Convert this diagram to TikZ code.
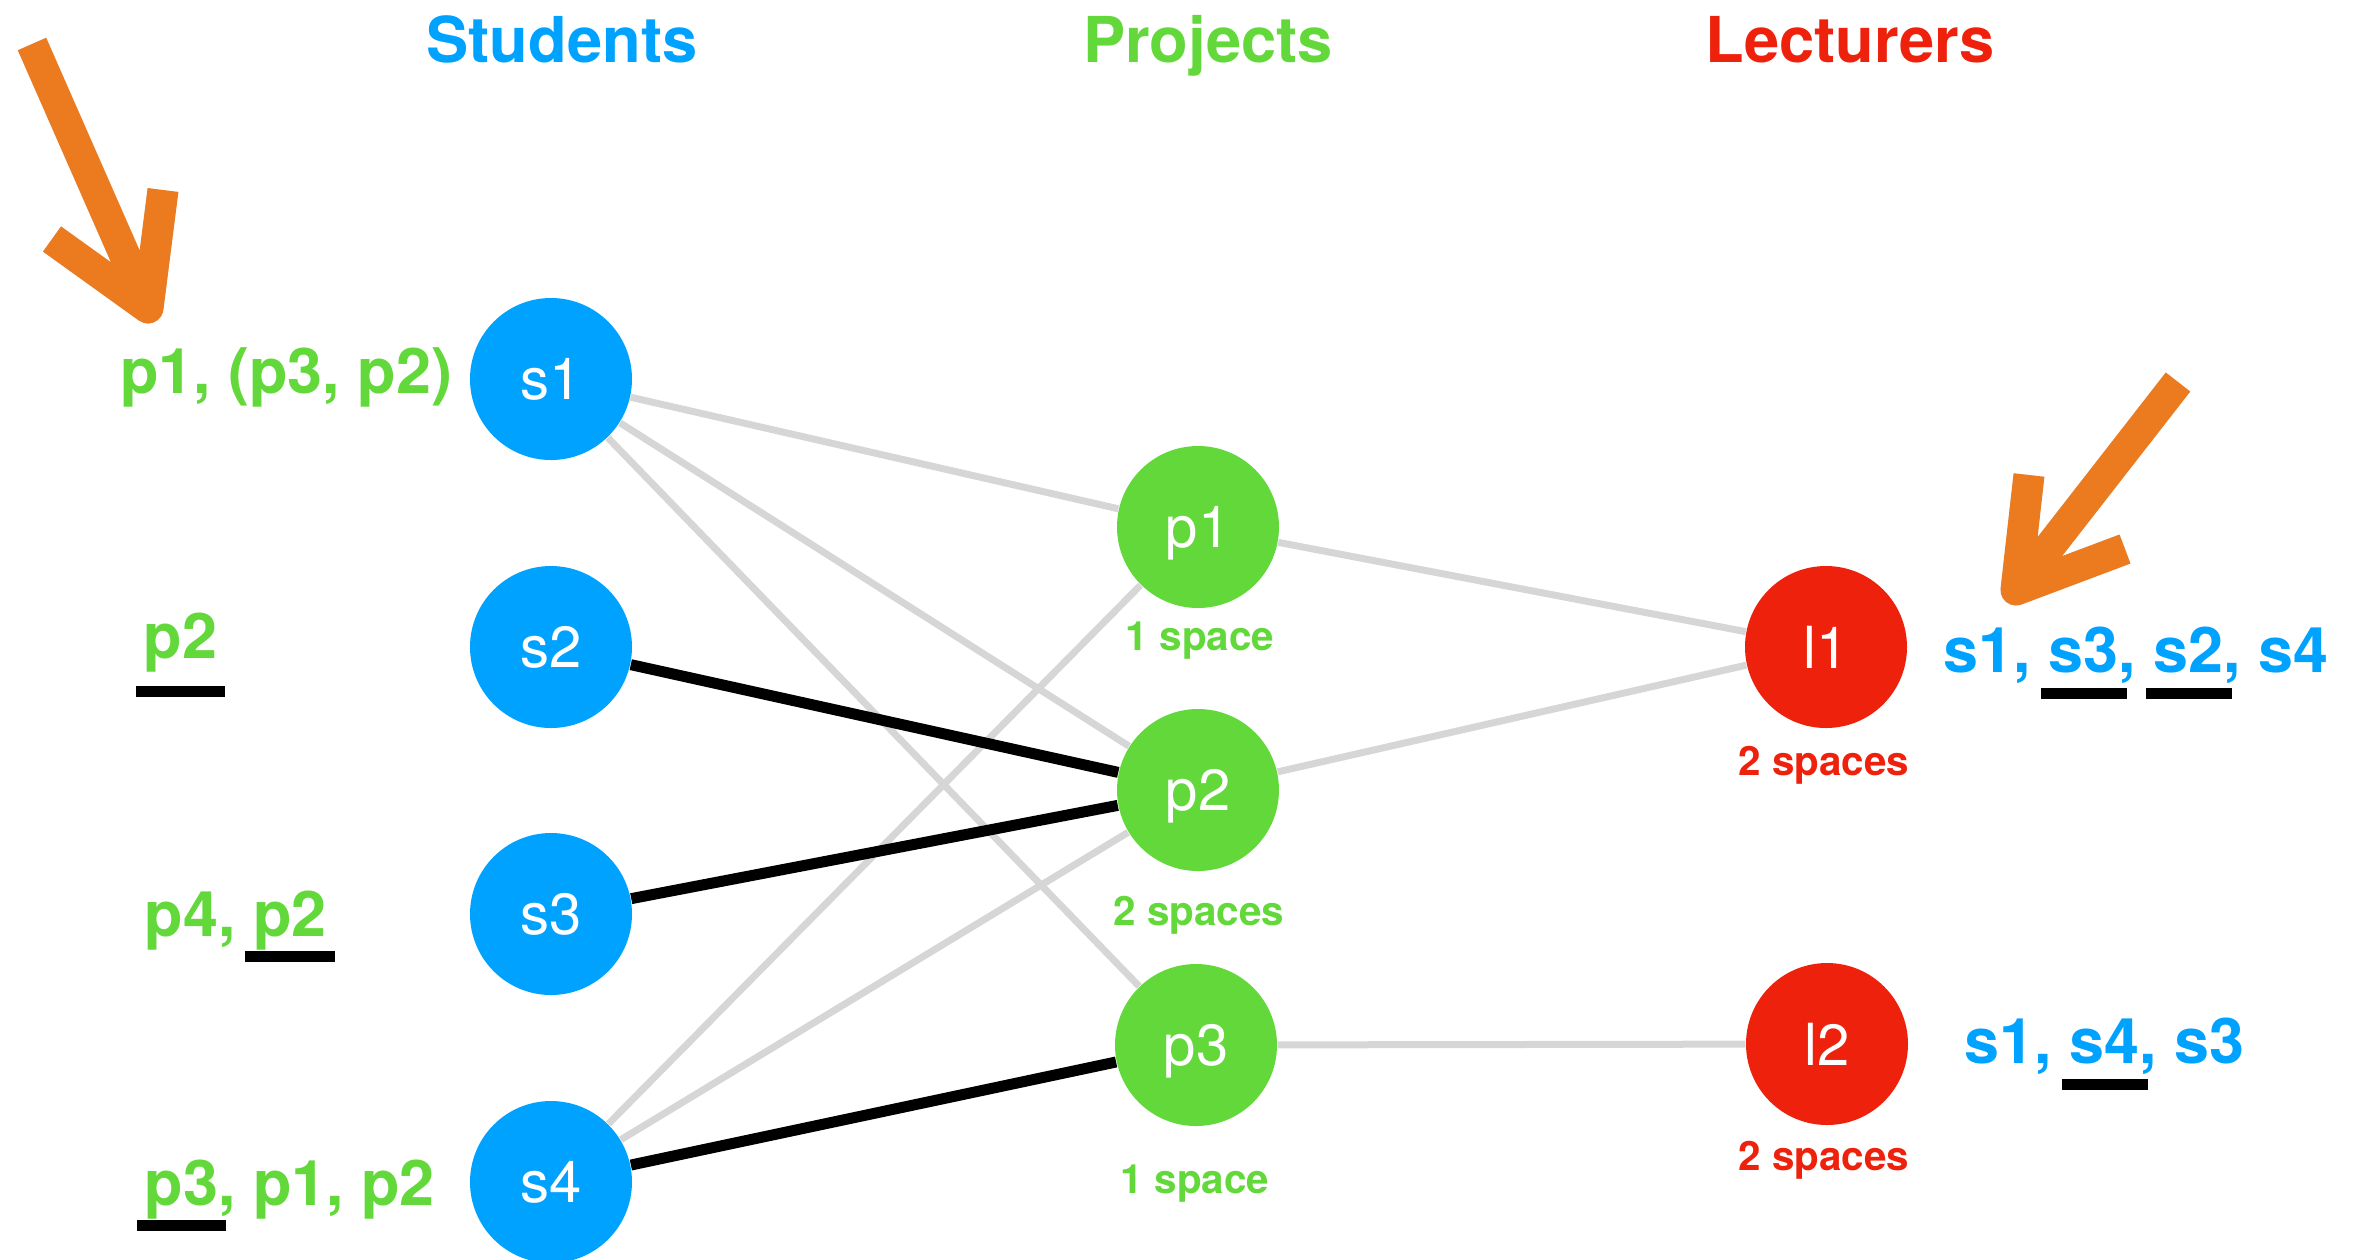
\documentclass[tikz,border=0pt]{standalone}
\usepackage{fontspec}
\setmainfont{TeX Gyre Heros}
\definecolor{stublue}{RGB}{0,162,255}
\definecolor{projgreen}{RGB}{98,216,58}
\definecolor{lectred}{RGB}{238,34,12}
\definecolor{hintorange}{RGB}{236,122,31}
\definecolor{edgegray}{RGB}{214,214,214}
\newcommand\prefbar[2][2.6mm]{\setbox0\hbox{#2}\rlap{\kern-0.8mm\color{black}\rule[-#1]{\dimexpr\wd0+1.6mm\relax}{1.1mm}}\box0}
\begin{document}
\begin{tikzpicture}[x=0.1mm,y=-0.1mm,
    student/.style={circle,fill=stublue,minimum size=16.2mm,inner sep=0pt,text=white,text depth=0pt,font=\fontsize{16.5}{18}\selectfont},
    project/.style={student,fill=projgreen},
    lecturer/.style={student,fill=lectred},
    heading/.style={anchor=base,inner sep=0pt,font=\fontsize{18}{20}\selectfont\bfseries},
    preflist/.style={inner sep=0pt,font=\fontsize{17.9}{20}\selectfont\bfseries},
    capacity/.style={anchor=base,inner sep=0pt,font=\fontsize{11.5}{13}\selectfont\bfseries},
    free/.style={draw=edgegray,line width=0.7mm},
    matched/.style={draw=black,line width=1.1mm},
    hint/.style={draw=hintorange,line width=3.1mm,line join=round}]
\useasboundingbox (0,0) rectangle (2358,1259);
\node[heading,text=stublue] (hdstud) at (562,62) {Students};
\node[heading,text=projgreen] (hdproj) at (1208,62) {Projects};
\node[heading,text=lectred] (hdlect) at (1850,62) {Lecturers};
\node[student] (s1) at (551,379) {s1};
\node[student] (s2) at (551,647) {s2};
\node[student] (s3) at (551,914) {s3};
\node[student] (s4) at (551,1182) {s4};
\node[project] (p1) at (1198,527) {p1};
\node[project] (p2) at (1198,790) {p2};
\node[project] (p3) at (1196,1045) {p3};
\node[lecturer] (l1) at (1826,647) {l1};
\node[lecturer] (l2) at (1827,1044) {l2};
\node[capacity,text=projgreen] (cap1) at (1200,650) {1 space};
\node[capacity,text=projgreen] (cap2) at (1199,925) {2 spaces};
\node[capacity,text=projgreen] (cap3) at (1195,1193) {1 space};
\node[capacity,text=lectred] (capl1) at (1824,775) {2 spaces};
\node[capacity,text=lectred] (capl2) at (1824,1170) {2 spaces};
\node[preflist,text=projgreen,anchor=base east] (pref1) at (453,393) {p1, (p3, p2)};
\node[preflist,text=projgreen,anchor=base west] (pref2) at (143,658) {\prefbar[3.9mm]{p2}};
\node[preflist,text=projgreen,anchor=base west] (pref3) at (144,936) {p4, \prefbar{p2}};
\node[preflist,text=projgreen,anchor=base west] (pref4) at (144,1205) {\prefbar{p3}, p1, p2};
\node[preflist,text=stublue,anchor=base west] (prefl1) at (1943,672) {s1, \prefbar[2.7mm]{s3}, \prefbar[2.7mm]{s2}, s4};
\node[preflist,text=stublue,anchor=base west] (prefl2) at (1964,1063) {s1, \prefbar[2.7mm]{s4}, s3};
\draw[free] (s1) -- (p1);
\draw[free] (s1) -- (p2);
\draw[free] (s1) -- (p3);
\draw[free] (s4) -- (p1);
\draw[free] (s4) -- (p2);
\draw[free] (p1) -- (l1);
\draw[free] (p2) -- (l1);
\draw[free] (p3) -- (l2);
\draw[matched] (s2) -- (p2);
\draw[matched] (s3) -- (p2);
\draw[matched] (s4) -- (p3);
\coordinate (tail1) at (32,44);
\coordinate (tip1) at (148,308);
\coordinate (wing1a) at (52,239);
\coordinate (wing1b) at (163,190);
\coordinate (tail2) at (2178,382);
\coordinate (tip2) at (2016,590);
\coordinate (wing2a) at (2029,475);
\coordinate (wing2b) at (2125,549);
\draw[hint,draw=black,opacity=0.12,shift={(5,7)}] (tail1) -- (tip1) -- (wing1a) (tip1) -- (wing1b) (tail2) -- (tip2) -- (wing2a) (tip2) -- (wing2b);
\draw[hint] (tail1) -- (tip1) -- (wing1a) (tip1) -- (wing1b);
\draw[hint] (tail2) -- (tip2) -- (wing2a) (tip2) -- (wing2b);
\end{tikzpicture}
\end{document}
